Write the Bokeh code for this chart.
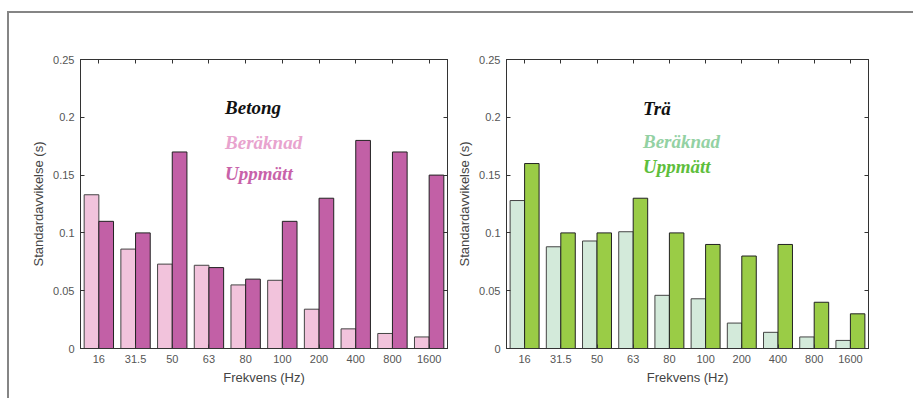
from bokeh.plotting import figure
from bokeh.models import Range1d, FixedTicker, LinearAxis, CustomJSTickFormatter
from bokeh.layouts import row
from bokeh.core.properties import value
from bokeh.embed import file_html
from bokeh.resources import INLINE

freqs = ["16", "31.5", "50", "63", "80", "100", "200", "400", "800", "1600"]

betong_beraknad = [0.133, 0.086, 0.073, 0.072, 0.055, 0.059, 0.034, 0.017, 0.013, 0.010]
betong_uppmatt = [0.11, 0.10, 0.17, 0.07, 0.06, 0.11, 0.13, 0.18, 0.17, 0.15]

tra_beraknad = [0.128, 0.088, 0.093, 0.101, 0.046, 0.043, 0.022, 0.014, 0.010, 0.007]
tra_uppmatt = [0.16, 0.10, 0.10, 0.13, 0.10, 0.09, 0.08, 0.09, 0.04, 0.03]

y_ticks = [0, 0.05, 0.1, 0.15, 0.2, 0.25]

AX = "#333333"
LBL = "#555555"
SANS = "Liberation Sans"
SERIF = "Liberation Serif"


def make_fig(width, mb_left, mb_right, beraknad, uppmatt, c_light, c_dark,
             title, t_light, t_dark, tx, ty):
    n = len(freqs)
    xt = [i + 0.5 for i in range(n)]
    p = figure(width=width, height=385, x_range=Range1d(0, n), y_range=Range1d(0, 0.25),
               output_backend="svg", toolbar_location=None,
               min_border_left=mb_left, min_border_right=mb_right,
               min_border_top=46, min_border_bottom=50)
    p.grid.visible = False
    p.outline_line_color = AX
    p.background_fill_color = "white"
    p.border_fill_color = "white"

    p.vbar(x=[i + 0.3 for i in range(n)], top=beraknad, width=0.4, bottom=0,
           fill_color=c_light, line_color="#444444", line_width=1)
    p.vbar(x=[i + 0.7 for i in range(n)], top=uppmatt, width=0.4, bottom=0,
           fill_color=c_dark, line_color="#222222", line_width=1)

    xa = p.xaxis[0]
    xa.ticker = FixedTicker(ticks=xt)
    xa.major_label_overrides = {t: f for t, f in zip(xt, freqs)}
    xa.axis_label = "Frekvens (Hz)"
    ya = p.yaxis[0]
    ya.ticker = FixedTicker(ticks=y_ticks)
    ya.formatter = CustomJSTickFormatter(code="return tick.toString();")
    ya.axis_label = "Standardavvikelse (s)"

    for ax in (xa, ya):
        ax.axis_line_color = AX
        ax.major_tick_line_color = AX
        ax.major_tick_in = 4
        ax.major_tick_out = 0
        ax.minor_tick_line_color = None
        ax.major_label_text_font = SANS
        ax.major_label_text_font_size = "11px"
        ax.major_label_text_color = LBL
        ax.major_label_standoff = 6
        ax.axis_label_text_font = SANS
        ax.axis_label_text_font_size = "13px"
        ax.axis_label_text_font_style = "normal"
        ax.axis_label_text_color = "#444444"
        ax.axis_label_standoff = 4

    blank = CustomJSTickFormatter(code="return '';")
    top = LinearAxis(ticker=FixedTicker(ticks=xt), formatter=blank,
                     major_tick_in=4, major_tick_out=0, minor_tick_line_color=None,
                     axis_line_color=AX, major_tick_line_color=AX, major_label_standoff=0)
    p.add_layout(top, "above")
    right = LinearAxis(ticker=FixedTicker(ticks=y_ticks), formatter=blank,
                       major_tick_in=4, major_tick_out=0, minor_tick_line_color=None,
                       axis_line_color=AX, major_tick_line_color=AX, major_label_standoff=0)
    p.add_layout(right, "right")

    labels = [title, "Beräknad", "Uppmätt"]
    colors = ["#111111", t_light, t_dark]
    for lab, col, yy in zip(labels, colors, ty):
        p.text(x=[tx], y=[yy], text=[lab], text_color=col,
               text_font=value(SERIF), text_font_style="bold italic",
               text_font_size="19px", text_align="left", text_baseline="middle")
    return p


p1 = make_fig(445, 71, 7, betong_beraknad, betong_uppmatt,
              "#F2C3DC", "#C260A6", "Betong", "#E8A3CE", "#C862A9",
              3.94, [0.2085, 0.1785, 0.1514])
p2 = make_fig(459, 50, 45, tra_beraknad, tra_uppmatt,
              "#D3EADA", "#9ACC46", "Trä", "#93D1A3", "#5EBE3C",
              3.77, [0.2076, 0.1793, 0.1574])

layout = row(p1, p2, styles={"border-top": "2px solid #858585",
                             "border-left": "2px solid #858585",
                             "margin-top": "11px", "margin-left": "7px"})

open("out.html", "w").write(file_html(layout, INLINE))
